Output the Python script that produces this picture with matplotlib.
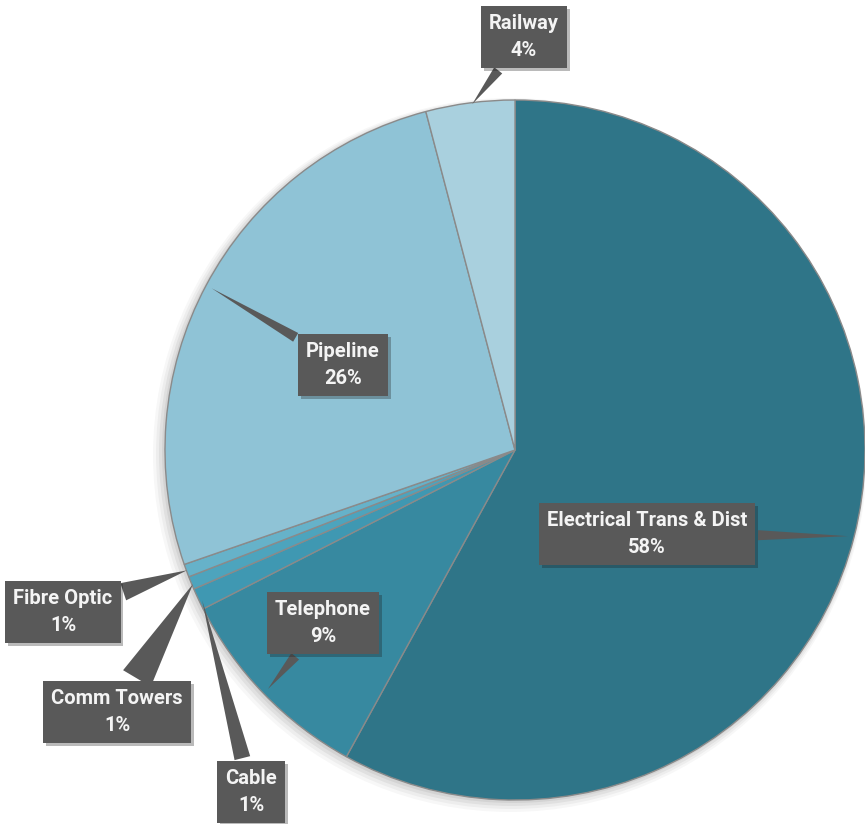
import numpy as np
import matplotlib
matplotlib.use('Agg')
import matplotlib.pyplot as plt
import matplotlib.patheffects as pe

# dane
labels = ['Electrical Trans & Dist', 'Telephone', 'Cable', 'Comm Towers', 'Fibre Optic', 'Pipeline', 'Railway']
values = [58.0, 9.5, 1.0, 0.6, 0.6, 26.2, 4.1]
pct_labels = ['58%', '9%', '1%', '1%', '1%', '26%', '4%']
colors = ['#2f7588', '#3789a0', '#3f98b2', '#4da4bd', '#66b2c9', '#8fc3d6', '#a9d0de']

# polozenie etykiet (srodek ramki, piksele od gory) i szerokosc ogonka
label_pos = [(647, 534), (323, 623), (251, 792), (117, 712), (63, 612), (343, 365), (524, 37)]
tail_w = [0.5, 0.5, 0.8, 1.6, 0.9, 0.5, 0.5]

W, H = 865, 824
cx, cy, R = 515, H - 450, 350

fig = plt.figure(figsize=(8.65, 8.24), dpi=100)
ax = fig.add_axes([0, 0, 1, 1])

wedges, _ = ax.pie(values, colors=colors, startangle=90, counterclock=False,
                   center=(cx, cy), radius=R, frame=False,
                   wedgeprops=dict(edgecolor='#8a8a8a', linewidth=1.0))
ax.set_xlim(0, W)
ax.set_ylim(0, H)
ax.set_aspect('equal')
ax.axis('off')

# lekki cien pod kolem
for i, a in enumerate([0.06, 0.05, 0.04, 0.03]):
    ax.add_patch(plt.Circle((cx - 2 - i, cy - 2 - i), R + 1 + i * 2, color='black', alpha=a, zorder=0, lw=0))

for w, name, pct, (lx, ly), tw in zip(wedges, labels, pct_labels, label_pos, tail_w):
    mid = np.deg2rad((w.theta1 + w.theta2) / 2)
    tip = (cx + 0.99 * R * np.cos(mid), cy + 0.99 * R * np.sin(mid))
    t = ax.annotate(name + '\n' + pct, xy=tip, xytext=(lx, H - ly),
                    ha='center', va='center', fontsize=14.5, fontweight='bold',
                    family='Roboto', color='#f4f4f4', linespacing=1.55, zorder=5,
                    bbox=dict(boxstyle='square,pad=0.4', fc='#595959', ec='none'),
                    arrowprops=dict(arrowstyle='wedge,tail_width=%.2f' % tw,
                                    fc='#595959', ec='none'))
    t.get_bbox_patch().set_path_effects([pe.SimplePatchShadow(offset=(2, -2), alpha=0.3), pe.Normal()])

plt.savefig('out.png', dpi=100, facecolor='white')
